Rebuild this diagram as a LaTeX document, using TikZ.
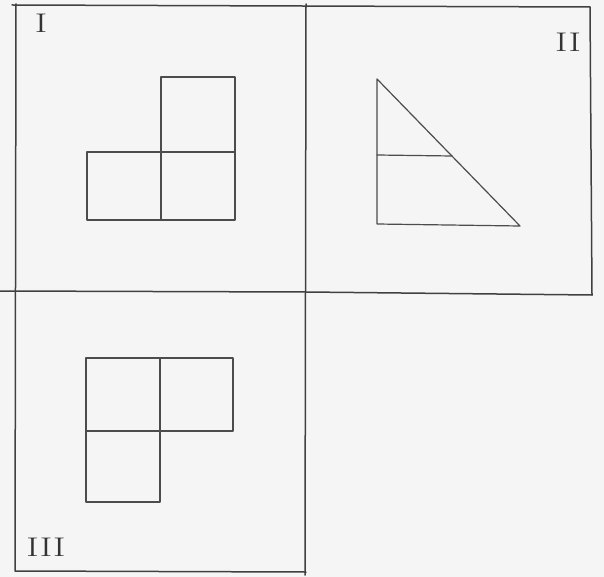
\documentclass[tikz,border=0pt]{standalone}
\begin{document}
\begin{tikzpicture}[x=1pt,y=-1pt,
  ln/.style={draw=black!75,line width=1.5pt,line join=round,line cap=round},
  thin/.style={draw=black!70,line width=1.2pt,line join=round,line cap=round},
  lab/.style={font=\fontsize{27}{27}\selectfont,text=black!80,inner sep=0pt,xscale=1.4}]
\fill[black!4] (0,0) rectangle (604,577);
\useasboundingbox (0,0) rectangle (604,577);
% frame
\draw[ln] (12,5) -- (590,7) -- (592,295);
\draw[ln] (16,4) -- (15,571) -- (306,572);
\draw[ln] (0,291) -- (306,292) -- (592,295);
\draw[ln] (306,4) -- (305,575);
% panel I
\draw[thin] (161,77) rectangle (235,152);
\draw[thin] (87,152) rectangle (161,220);
\draw[thin] (161,152) rectangle (235,220);
% panel II
\draw[thin] (377,79) -- (520,226) -- (377,224) -- cycle;
\draw[thin] (377,155) -- (452,156);
% panel III
\draw[thin] (86,358) rectangle (160,431);
\draw[thin] (160,358) rectangle (233,431);
\draw[thin] (86,431) rectangle (160,502);
% labels
\node[lab] (l1) at (41,23) {I};
\node[lab] (l2) at (568,42) {II};
\node[lab] (l3) at (46,547) {III};
\end{tikzpicture}
\end{document}
